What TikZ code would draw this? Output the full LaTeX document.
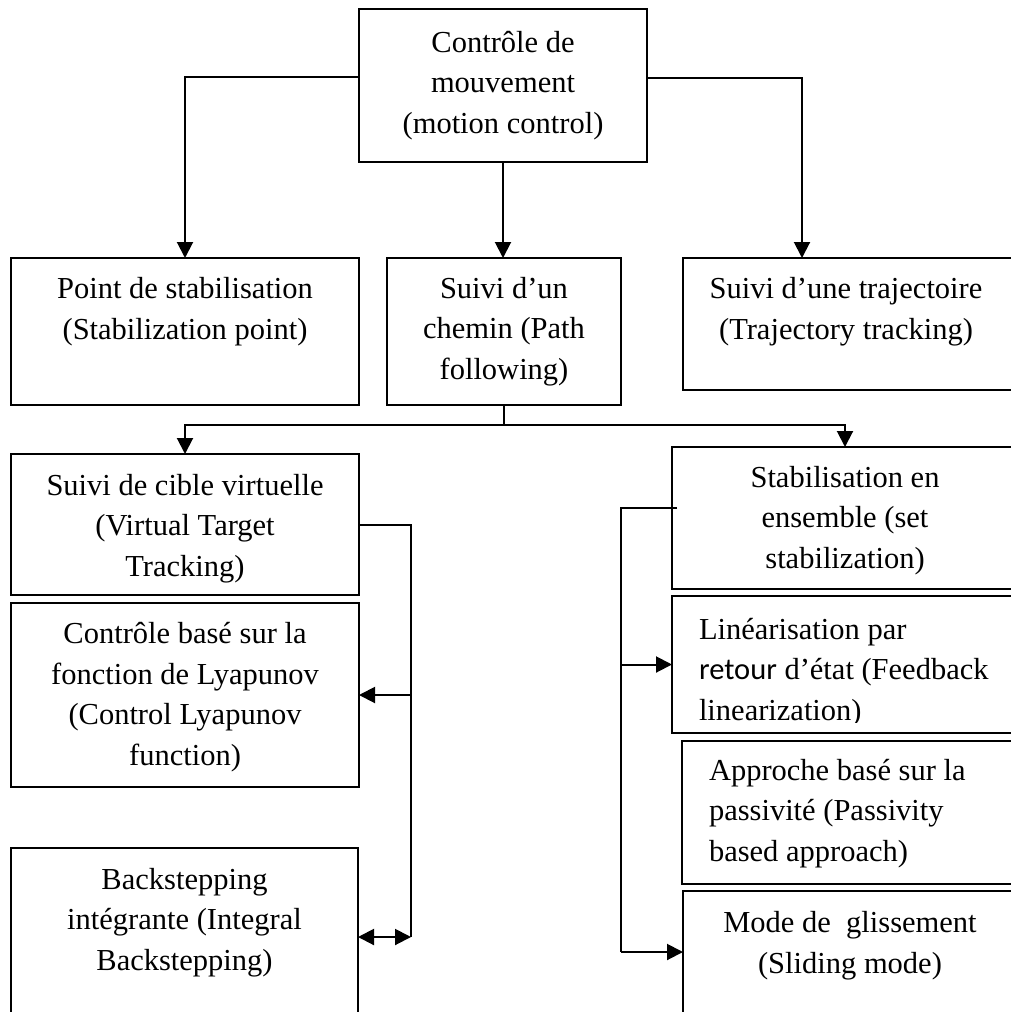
\documentclass[tikz,border=0pt]{standalone}
\usepackage{fontspec}
\setmainfont{Liberation Serif}
\newfontfamily\carlito{Carlito}
\usetikzlibrary{arrows.meta}

\begin{document}
\begin{tikzpicture}[x=1pt, y=-1pt, line width=2pt,
    box node/.style={rectangle,draw,anchor=north west,outer sep=0pt,inner sep=0pt},
    text node/.style={inner sep=0pt,anchor=base,align=center,font=\fontsize{30.5}{40.5}\selectfont},
    left text/.style={text node,anchor=base west,align=left},
    conn/.style={-{Triangle[width=16pt,length=16pt]}},
    dconn/.style={{Triangle[width=16pt,length=16pt]}-{Triangle[width=16pt,length=16pt]}}]

\useasboundingbox (0,0) rectangle (1011,1012);
\clip (0,0) rectangle (1011,1012);

\node[box node,minimum width=288pt,minimum height=153pt] (top) at (359,9) {};
\node[box node,minimum width=348pt,minimum height=147pt] (pointstab) at (11,258) {};
\node[box node,minimum width=234pt,minimum height=147pt] (chemin) at (387,258) {};
\node[box node,minimum width=335pt,minimum height=132pt] (trajectoire) at (683,258) {};
\node[box node,minimum width=348pt,minimum height=141pt] (cible) at (11,454) {};
\node[box node,minimum width=348pt,minimum height=184pt] (lyapunov) at (11,603) {};
\node[box node,minimum width=347pt,minimum height=180pt] (backstep) at (11,848) {};
\node[box node,minimum width=346pt,minimum height=142pt] (ensemble) at (672,447) {};
\node[box node,minimum width=346pt,minimum height=137pt] (linear) at (672,596) {};
\node[box node,minimum width=336pt,minimum height=143pt] (passiv) at (682,741) {};
\node[box node,minimum width=335pt,minimum height=140pt] (glisse) at (683,891) {};

\node[text node] at ([yshift=-124pt]top.north) {Contrôle de\\mouvement\\(motion control)};
\node[text node] at ([yshift=-81pt]pointstab.north) {Point de stabilisation\\(Stabilization point)};
\node[text node] at ([yshift=-121pt]chemin.north) {Suivi d’un\\chemin (Path\\following)};
\node[text node] at ([xshift=163pt,yshift=-81pt]trajectoire.north west) {Suivi d’une trajectoire\\(Trajectory tracking)};
\node[text node] at ([yshift=-122pt]cible.north) {Suivi de cible virtuelle\\(Virtual Target\\Tracking)};
\node[text node] at ([yshift=-162pt]lyapunov.north) {Contrôle basé sur la\\fonction de Lyapunov\\(Control Lyapunov\\function)};
\node[text node] at ([yshift=-122pt]backstep.north) {Backstepping\\intégrante (Integral\\Backstepping)};
\node[text node] at ([xshift=173pt,yshift=-121pt]ensemble.north west) {Stabilisation en\\ensemble (set\\stabilization)};
\begin{scope}
\clip (672,596) rectangle (1011,722);
\node[left text] at ([xshift=26pt,yshift=-124pt]linear.north west) {Linéarisation par\\{\carlito retour} d’état (Feedback\\linearization)};
\end{scope}
\node[left text] at ([xshift=26pt,yshift=-120pt]passiv.north west) {Approche basé sur la\\passivité (Passivity\\based approach)};
\node[text node] at ([xshift=167pt,yshift=-82pt]glisse.north west) {Mode de~ glissement\\(Sliding mode)};

\coordinate (split) at (504,425);
\coordinate (lrail) at (411,937);
\coordinate (rrail) at (621,952);

\draw[conn] (top.west |- 0,77) -| (pointstab.north);
\draw[conn] (top.east |- 0,78) -| ([xshift=119pt]trajectoire.north west);
\draw[conn] (top.south) -- (top.south |- chemin.north);

\draw (chemin.south) -- (split);
\draw[conn] (split) -| (cible.north);
\draw[conn] (split) -| ([xshift=173pt]ensemble.north west);

\draw (cible.east) -| (lrail);
\draw[conn] (lyapunov.east -| lrail) -- (lyapunov.east);
\draw[dconn] (backstep.east |- lrail) -- (lrail);

\draw ([xshift=5pt,yshift=10pt]ensemble.west) -| (rrail);
\draw[conn] (rrail |- linear.west) -- (linear.west);
\draw[conn] (rrail) -- (glisse.west |- rrail);

\end{tikzpicture}
\end{document}
